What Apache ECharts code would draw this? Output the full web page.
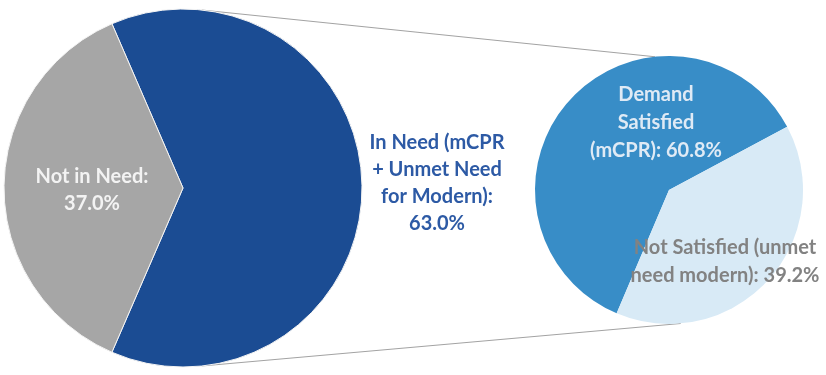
<!DOCTYPE html>
<html>
<head>
<meta charset="utf-8">
<script src="https://cdn.jsdelivr.net/npm/echarts@6/dist/echarts.min.js"></script>
<style>
  html, body { margin: 0; padding: 0; background: #ffffff; }
  #chart { width: 826px; height: 375px; }
</style>
</head>
<body>
<div id="chart"></div>
<script>
// Need for modern contraception, and how much of that need is met
const needCategories = ['In Need (mCPR\n+ Unmet Need\nfor Modern)', 'Not in Need'];
const needValues = [63.0, 37.0];
const demandCategories = ['Demand\nSatisfied\n(mCPR)', 'Not Satisfied (unmet\nneed modern)'];
const demandValues = [60.8, 39.2];

// Layout (pixels)
const bigPie = { cx: 183, cy: 188, r: 179 };
const smallPie = { cx: 669, cy: 190, r: 134 };
const needLabelPos = [[437, 183], [92, 190]];
const demandLabelPos = [[656, 123], [725, 262]];

const FONT = 'Lato, "Open Sans", sans-serif';

function pt(p, deg) {
  const a = deg * Math.PI / 180;
  return [p.cx + p.r * Math.cos(a), p.cy - p.r * Math.sin(a)];
}

const chart = echarts.init(document.getElementById('chart'), null, { renderer: 'canvas' });

const topA = pt(bigPie, 84), topB = pt(smallPie, 96);
const botA = pt(bigPie, -84), botB = pt(smallPie, -85);

chart.setOption({
  animation: false,
  backgroundColor: '#ffffff',
  graphic: [
    { type: 'line', z: 0, shape: { x1: topA[0], y1: topA[1], x2: topB[0], y2: topB[1] },
      style: { stroke: '#a3a3a3', lineWidth: 1.2 } },
    { type: 'line', z: 0, shape: { x1: botA[0], y1: botA[1], x2: botB[0], y2: botB[1] },
      style: { stroke: '#a3a3a3', lineWidth: 1.2 } }
  ],
  series: [
    {
      type: 'pie',
      center: [bigPie.cx, bigPie.cy],
      radius: bigPie.r,
      clockwise: true,
      // the "not in need" wedge is centred on the left
      startAngle: 180 - needValues[1] * 1.8,
      silent: true,
      itemStyle: { borderColor: '#f4f4f4', borderWidth: 1 },
      labelLine: { show: false },
      label: {
        show: true,
        position: 'inside',
        fontFamily: FONT,
        fontWeight: 'bold',
        fontSize: 20,
        lineHeight: 27,
        align: 'center',
        formatter: p => p.name + ':\n' + p.value.toFixed(1) + '%'
      },
      labelLayout: p => ({ x: needLabelPos[p.dataIndex][0], y: needLabelPos[p.dataIndex][1], align: 'center', verticalAlign: 'middle' }),
      data: needCategories.map((name, i) => ({
        name: name,
        value: needValues[i],
        itemStyle: { color: ['#1b4c93', '#a6a6a6'][i] },
        label: { color: ['#2d5aa5', '#f3f3f3'][i] }
      }))
    },
    {
      type: 'pie',
      center: [smallPie.cx, smallPie.cy],
      radius: smallPie.r,
      clockwise: true,
      startAngle: 247,
      silent: true,
      labelLine: { show: false },
      label: {
        show: true,
        position: 'inside',
        fontFamily: FONT,
        fontWeight: 'bold',
        fontSize: 20,
        lineHeight: 28,
        align: 'center',
        formatter: p => p.name + ': ' + p.value.toFixed(1) + '%'
      },
      labelLayout: p => ({ x: demandLabelPos[p.dataIndex][0], y: demandLabelPos[p.dataIndex][1], align: 'center', verticalAlign: 'middle' }),
      data: demandCategories.map((name, i) => ({
        name: name,
        value: demandValues[i],
        itemStyle: { color: ['#388dc7', '#d8eaf6'][i] },
        label: { color: ['#dfeaf5', '#828282'][i] }
      }))
    }
  ]
});
</script>
</body>
</html>
